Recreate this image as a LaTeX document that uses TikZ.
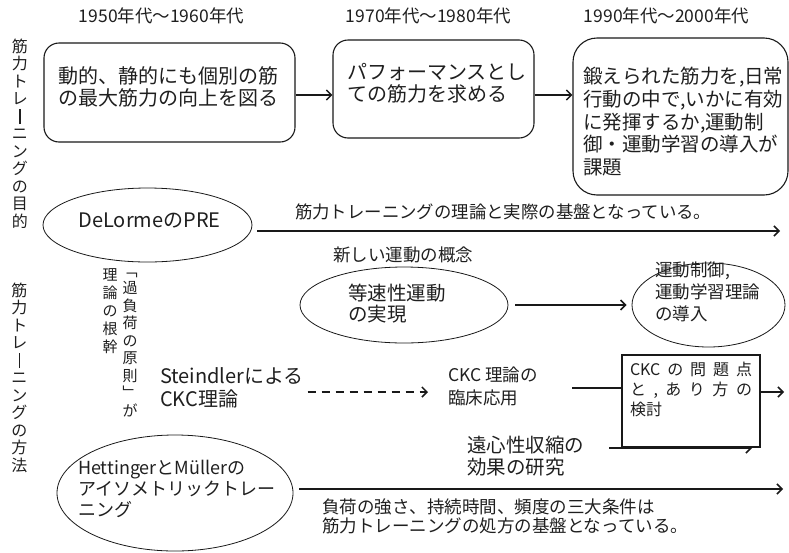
\documentclass[tikz,border=0pt]{standalone}
\usepackage{fontspec}
\setmainfont{Noto Sans CJK JP}
\usetikzlibrary{arrows.meta,shapes.geometric}
\newcommand\fs[2]{\fontsize{#1pt}{#2pt}\selectfont}
\newcommand\vbar{\raisebox{-2pt}{\rule{1.5pt}{15pt}}}
\begin{document}
\begin{tikzpicture}[x=1pt,y=-1pt,
  txt/.style={inner sep=0pt, outer sep=0pt, text=black!88, align=left, anchor=west},
  vcol/.style={inner sep=0pt, outer sep=0pt, text=black!88, align=center},
  rbox/.style={draw=black!90, line width=1.1pt, inner sep=0pt},
  ell/.style={draw=black!90, ellipse, line width=0.8pt, inner sep=0pt},
  arr/.style={draw=black!90, line width=1.5pt, -{Straight Barb[length=5pt,width=10pt]}},
  conn/.style={draw=black!90, line width=1.5pt}]
\useasboundingbox (0,0) rectangle (789,552);

% headers
\node[txt, anchor=center, font=\fs{17.5}{20}] (h1) at (161.5,16) {1950年代～1960年代};
\node[txt, anchor=center, font=\fs{17.5}{20}] (h2) at (428.5,16) {1970年代～1980年代};
\node[txt, anchor=center, font=\fs{17.5}{20}] (h3) at (666.5,16) {1990年代～2000年代};

% top boxes
\node[rbox, rounded corners=15pt, minimum width=251pt, minimum height=99pt] (b1) at (169.5,92.5) {};
\node[rbox, rounded corners=15pt, minimum width=201pt, minimum height=98pt] (b2) at (433.5,89) {};
\node[rbox, rounded corners=24pt, minimum width=215pt, minimum height=157pt] (b3) at (680.5,116.5) {};
\node[txt, font=\fs{20}{22}] (t1) at (58,87) {動的、静的にも個別の筋\\の最大筋力の向上を図る};
\node[txt, font=\fs{20}{22}] (t2) at (347,83) {パフォーマンスとし\\ての筋力を求める};
\node[txt, font=\fs{19.5}{22.7}] (t3) at (583,121.7) {鍛えられた筋力を,日常\\行動の中で,いかに有効\\に発揮するか,運動制\\御・運動学習の導入が\\課題};
\coordinate (y95) at (0,95);
\draw[arr] (b1.east |- y95) -- (b2.west |- y95);
\draw[arr] (b2.east |- y95) -- (b3.west |- y95);

% vertical labels
\node[vcol, font=\fs{16}{17.5}] (v1) at (20,133.5) {筋\\力\\ト\\レ\\\vbar\\ニ\\ン\\グ\\の\\目\\的};
\node[vcol, font=\fs{16}{17.5}] (v2) at (19.5,377.5) {筋\\力\\ト\\レ\\\vbar\\ニ\\ン\\グ\\の\\方\\法};
\node[vcol, font=\fs{15}{18}] (v3) at (110,311) {理\\論\\の\\根\\幹};
\node[vcol, font=\fs{15}{17.5}] (v4) at (130,345) {﹁\\過\\負\\荷\\の\\原\\則\\﹂\\が};

% DeLorme
\node[ell, minimum width=209pt, minimum height=74pt] (del) at (147.5,225) {};
\node[txt, anchor=center, font=\fs{20}{22}] (delt) at (149.5,220) {DeLormeのPRE};
\coordinate (de) at (780,231);
\draw[arr] ([xshift=5pt]del.east |- de) -- (de);
\node[txt, font=\fs{17.4}{20}] (l1) at (295,212) {筋力トレーニングの理論と実際の基盤となっている。};
\node[txt, font=\fs{17.5}{20}] (l2) at (333,255) {新しい運動の概念};

% isokinetic
\node[ell, minimum width=208pt, minimum height=76pt] (iso) at (404,305) {};
\node[txt, font=\fs{19.5}{21}] (isot) at (348,304) {等速性運動\\の実現};
\node[ell, minimum width=153pt, minimum height=84pt] (mot) at (708.5,305) {};
\node[txt, font=\fs{17.5}{22}] (mott) at (655,291.5) {運動制御,\\運動学習理論\\の導入};
\draw[arr, shorten <=7pt, shorten >=5pt] (iso.east) -- (mot.west);

% CKC row
\node[txt, font=\fs{20}{23}] (stein) at (160,388) {Steindlerによる\\CKC理論};
\node[txt, font=\fs{17.5}{23}] (ckc) at (448,386) {CKC 理論の\\臨床応用};
\draw[arr, dash pattern=on 8pt off 6pt] ([shift={(4pt,-4pt)}]stein.east) -- ([shift={(-20pt,-6pt)}]ckc.west);
\node[txt, font=\fs{19.5}{21.5}] (ecc) at (467,456) {遠心性収縮の\\効果の研究};
\coordinate (ecs) at (609,448);
\coordinate (ece) at (752,448);
\draw[arr] (ecs) -- (ece);
\node[rbox, fill=white, minimum width=138pt, minimum height=92pt] (cbox) at (691,401) {};
\node[txt, font=\fs{16}{20}] (cboxt) at (630,389.7) {\makebox[122pt][s]{CKC\hfill の\hfill 問\hfill 題\hfill 点}\\\makebox[122pt][s]{と\hfill ,\hfill あ\hfill り\hfill 方\hfill の}\\検討};
\coordinate (cls) at (572,388);
\draw[conn] (cls) -- (cbox.west |- cls);
\coordinate (cre) at (784,392);
\draw[arr] (cbox.east |- cre) -- (cre);

% Hettinger
\node[ell, minimum width=236pt, minimum height=116pt] (het) at (175,493) {};
\node[txt, font=\fs{18}{21.3}] (hett) at (78,489) {HettingerとMüllerの\\アイソメトリックトレー\\ニング};
\coordinate (he) at (783,489);
\draw[arr] ([xshift=6pt]het.east |- he) -- (he);
\node[txt, font=\fs{17.5}{19}] (bt) at (322,516) {負荷の強さ、持続時間、頻度の三大条件は\\筋力トレーニングの処方の基盤となっている。};
\end{tikzpicture}
\end{document}
